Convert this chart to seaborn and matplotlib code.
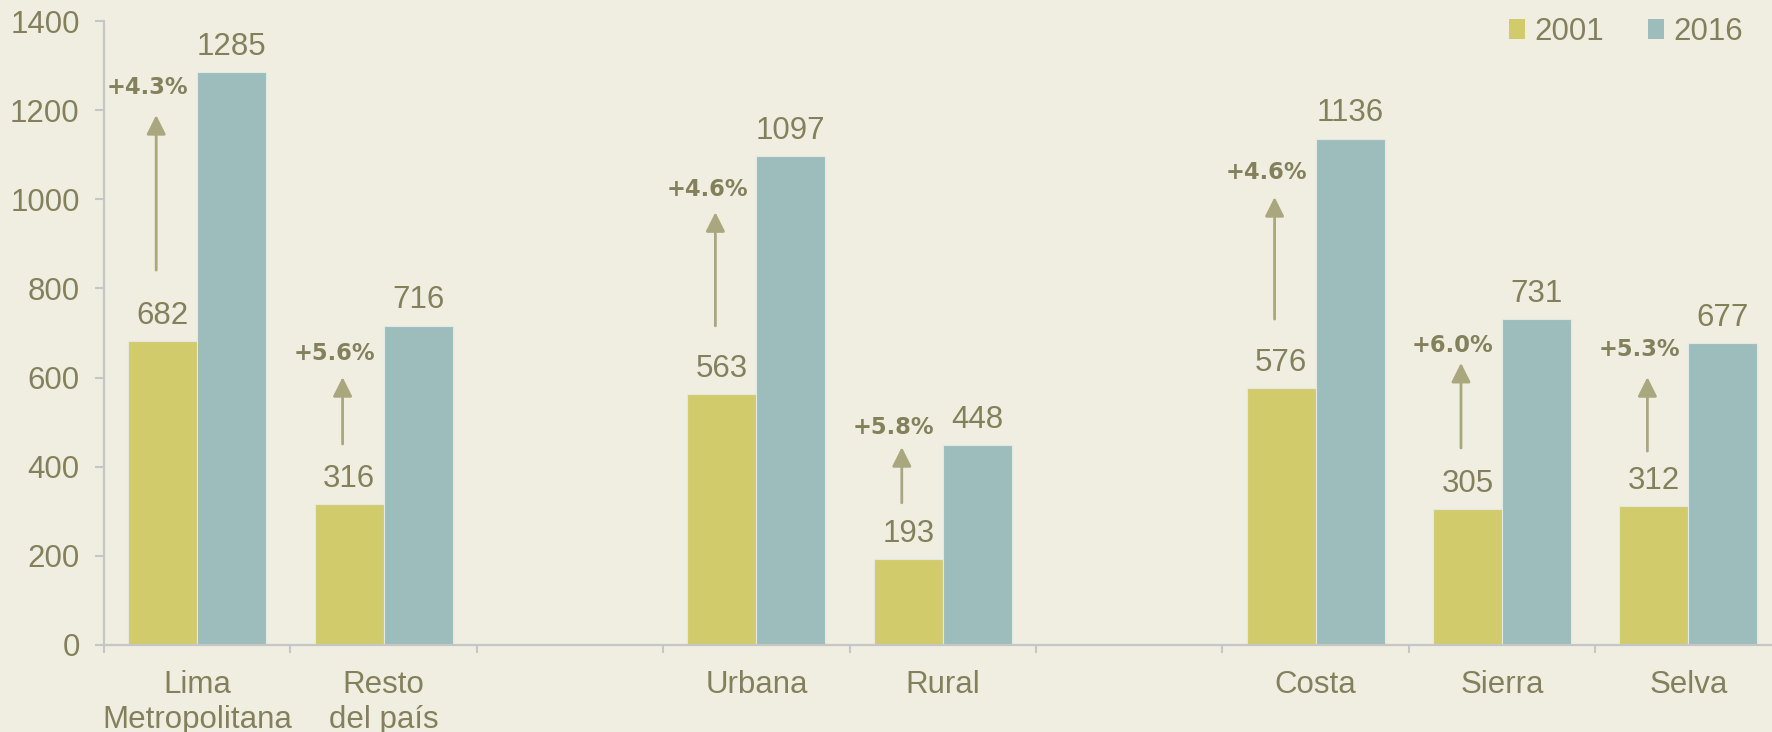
import matplotlib
matplotlib.use("Agg")
import matplotlib.pyplot as plt
from matplotlib.patches import Patch
from matplotlib.ticker import FixedLocator
import seaborn as sns
import pandas as pd
import numpy as np

# ---- data ----
categories = ["Lima\nMetropolitana", "Resto\ndel país", "Urbana", "Rural", "Costa", "Sierra", "Selva"]
slot_order = ["Lima\nMetropolitana", "Resto\ndel país", " ", "Urbana", "Rural", "  ", "Costa", "Sierra", "Selva"]
years = ["2001", "2016"]
v2001 = [682, 316, 563, 193, 576, 305, 312]
v2016 = [1285, 716, 1097, 448, 1136, 731, 677]
growth = ["+4.3%", "+5.6%", "+4.6%", "+5.8%", "+4.6%", "+6.0%", "+5.3%"]
arrow_from = [841, 451, 716, 319, 731, 442, 435]
arrow_to = [1189, 601, 971, 444, 1005, 633, 601]
growth_y = [1250, 655, 1023, 489, 1059, 671, 662]
yticks = [0, 200, 400, 600, 800, 1000, 1200, 1400]

# ---- style ----
BG = "#F0EEE0"
YELLOW = "#D2CB6C"
TEAL = "#9DBDBD"
TXT = "#83815C"
ARROW = "#A9A77E"
SPINE = "#C6C6C6"
FS = 22.5

sns.set_theme(style="white")
plt.rcParams["font.family"] = ["Liberation Sans", "DejaVu Sans"]

df = pd.DataFrame({
    "cat": categories * 2,
    "year": [years[0]] * len(categories) + [years[1]] * len(categories),
    "value": v2001 + v2016,
})

W, H = 1772, 732
fig = plt.figure(figsize=(W / 100, H / 100), dpi=100, facecolor=BG)
ax = fig.add_axes([104 / W, 87 / H, (W - 104) / W, 624 / H])
ax.set_facecolor(BG)

sns.barplot(data=df, x="cat", y="value", hue="year", order=slot_order,
            hue_order=years, palette=[YELLOW, TEAL], width=0.74, ax=ax,
            legend=False, edgecolor="#E4E8E2", linewidth=0.8, saturation=1)

slot_w = 186.4
ax.set_xlim(-0.5, -0.5 + (W - 104) / slot_w)
ax.set_ylim(0, 1400)
ax.set_xlabel("")
ax.set_ylabel("")

# value labels
for cont in ax.containers:
    ax.bar_label(cont, fmt="{:.0f}", padding=7.5, fontsize=FS, color=TXT)

# growth arrows + labels
for k, cat in enumerate(categories):
    s = slot_order.index(cat)
    xb = s - 0.74 / 4
    xa = xb - 0.035
    ax.annotate("", xy=(xa, arrow_to[k]), xytext=(xa, arrow_from[k]),
                arrowprops=dict(arrowstyle="-|>", color=ARROW, lw=2,
                                mutation_scale=29, shrinkA=0, shrinkB=0))
    ax.text(xb - 0.08, growth_y[k], growth[k], ha="center", va="center",
            fontsize=16.3, fontweight="bold", color=TXT,
            family=["DejaVu Sans"])

# axes styling
for side in ["top", "right"]:
    ax.spines[side].set_visible(False)
for side in ["left", "bottom"]:
    ax.spines[side].set_color(SPINE)
    ax.spines[side].set_linewidth(1.6)

ax.set_yticks(yticks)
ax.set_yticklabels([str(t) for t in yticks])
ax.tick_params(axis="y", direction="out", length=6.5, width=1.5, color=SPINE,
               pad=11, labelsize=FS, labelcolor=TXT, left=True)

ax.set_xticks(range(len(slot_order)))
ax.set_xticklabels([c.strip() for c in slot_order])
ax.tick_params(axis="x", which="major", length=0, pad=18, labelsize=FS, labelcolor=TXT)
ax.xaxis.set_minor_locator(FixedLocator(np.arange(-0.5, len(slot_order), 1.0)))
ax.tick_params(axis="x", which="minor", direction="out", length=6, width=1.5,
               color=SPINE, bottom=True)

handles = [Patch(facecolor=YELLOW, edgecolor="none"), Patch(facecolor=TEAL, edgecolor="none")]
fig.legend(handles, years, loc="center", bbox_to_anchor=(1626 / W, 700 / H), ncol=2,
           frameon=False, fontsize=FS, handlelength=0.52, handleheight=0.65,
           handletextpad=0.3, columnspacing=1.4, labelcolor=TXT)

fig.savefig("out.png", dpi=100, facecolor=BG)
